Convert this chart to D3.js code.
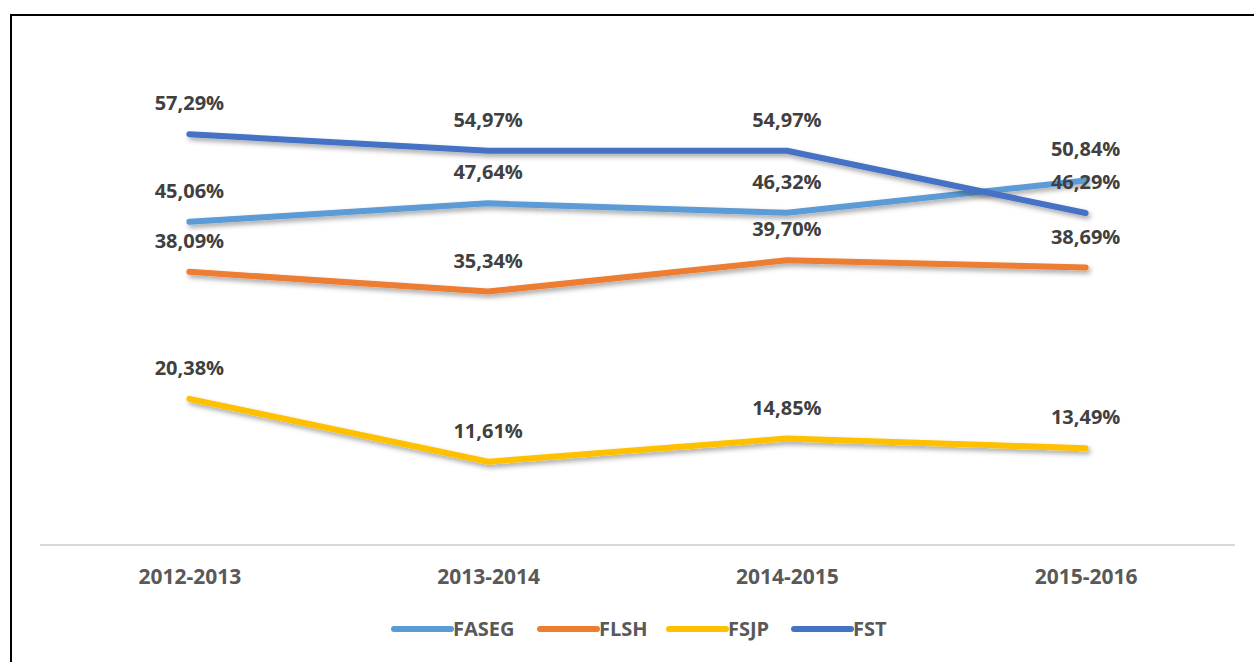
<!DOCTYPE html>
<html>
<head>
<meta charset="utf-8">
<script src="https://cdn.jsdelivr.net/npm/d3@7"></script>
<style>
  body { margin: 0; background: #fff; }
  svg text { font-family: "Open Sans", Lato, sans-serif; font-weight: bold; }
</style>
</head>
<body>
<div id="chart"></div>
<script>
var years  = ["2012-2013", "2013-2014", "2014-2015", "2015-2016"]
var series = ["FASEG", "FLSH", "FSJP", "FST"]
var faseg  = [45.06, 47.64, 46.32, 50.84]
var flsh   = [38.09, 35.34, 39.70, 38.69]
var fsjp   = [20.38, 11.61, 14.85, 13.49]
var fst    = [57.29, 54.97, 54.97, 46.29]
var colors = ["#5B9BD5", "#ED7D31", "#FFC000", "#4472C4"]

var rows = [faseg, flsh, fsjp, fst].map((v, i) => ({ name: series[i], values: v }))

var width = 1254, height = 662

var svg = d3.select("#chart").append("svg")
  .attr("width", width)
  .attr("height", height)

// soft shadow like the office chart
var defs = svg.append("defs")
var f = defs.append("filter").attr("id", "shadow")
  .attr("x", "-5%").attr("y", "-50%").attr("width", "110%").attr("height", "200%")
f.append("feDropShadow")
  .attr("dx", 2).attr("dy", 3).attr("stdDeviation", 2.5)
  .attr("flood-color", "#000").attr("flood-opacity", 0.35)

// outer frame
svg.append("rect")
  .attr("x", 11).attr("y", 15)
  .attr("width", 1270).attr("height", 680)
  .attr("fill", "none")
  .attr("stroke", "#000")
  .attr("stroke-width", 2)

var x = d3.scalePoint()
  .domain(years)
  .range([40, 1235])
  .padding(0.5)

var y = d3.scaleLinear()
  .domain([0, 70])
  .range([545, 43])

// category axis
var xAxis = svg.append("g")
  .attr("transform", "translate(0,545)")
  .call(d3.axisBottom(x).tickSize(0).tickPadding(0))

xAxis.select(".domain")
  .attr("d", "M40,0H1235")
  .attr("stroke", "#D9D9D9")
  .attr("stroke-width", 2)

xAxis.selectAll("text")
  .attr("y", 39)
  .attr("dy", null)
  .attr("fill", "#595959")
  .style("font-size", "21px")

var line = d3.line()
  .x((d, i) => x(years[i]))
  .y(d => y(d))

svg.selectAll(".serie").data(rows)
  .enter().append("path")
  .attr("class", "serie")
  .attr("d", d => line(d.values))
  .attr("fill", "none")
  .attr("stroke", (d, i) => colors[i])
  .attr("stroke-width", 6)
  .attr("stroke-linecap", "round")
  .attr("stroke-linejoin", "round")
  .attr("filter", "url(#shadow)")

// value labels above each point
rows.forEach(function (r) {
  svg.selectAll(null).data(r.values)
    .enter().append("text")
    .attr("x", (d, i) => x(years[i]))
    .attr("y", d => y(d) - 24)
    .attr("text-anchor", "middle")
    .attr("fill", "#404040")
    .style("font-size", "20px")
    .text(d => d.toFixed(2).replace(".", ",") + "%")
})

// legend
var legendX = [394, 540, 669, 794]
var legend = svg.selectAll(".legend").data(series)
  .enter().append("g")
  .attr("class", "legend")
  .attr("transform", (d, i) => "translate(" + legendX[i] + ",629)")

legend.append("line")
  .attr("x1", 0).attr("x2", 57)
  .attr("stroke", (d, i) => colors[i])
  .attr("stroke-width", 6)
  .attr("stroke-linecap", "round")

legend.append("text")
  .attr("x", 59)
  .attr("y", 7)
  .attr("fill", "#595959")
  .style("font-size", "20px")
  .text(d => d)
</script>
</body>
</html>
